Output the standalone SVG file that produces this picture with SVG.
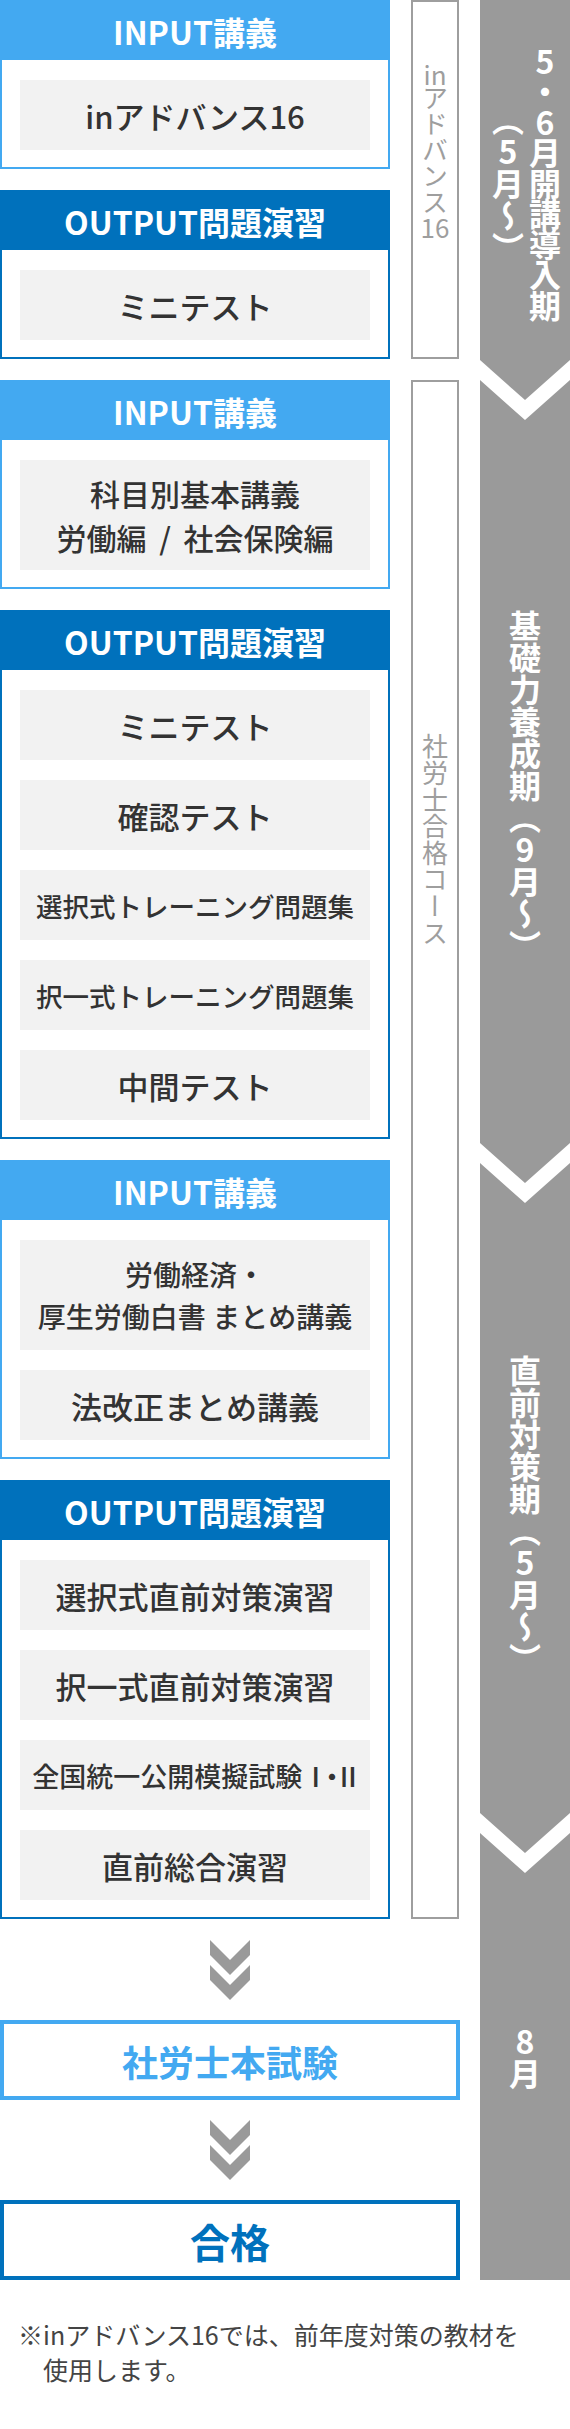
<svg xmlns="http://www.w3.org/2000/svg" width="570" height="2429" viewBox="0 0 570 2429">
<style>
text{font-family:"Noto Sans CJK JP","Noto Sans",sans-serif}
.frameL{fill:#fff;stroke:#43a9f1;stroke-width:2}
.frameD{fill:#fff;stroke:#0071bc;stroke-width:2}
.hdrL{fill:#43a9f1}
.hdrD{fill:#0071bc}
.hdrT{fill:#fff;font-size:32px;font-weight:700;text-anchor:middle;dominant-baseline:central}
.item{fill:#f2f2f2}
.itT{fill:#333;font-size:31px;font-weight:500;text-anchor:middle;dominant-baseline:central}
.lab{fill:#fff;stroke:#9e9e9e;stroke-width:2}
.labT{fill:#9e9e9e;font-size:26px;font-weight:400;text-anchor:middle;dominant-baseline:central}
.vert{writing-mode:vertical-rl;text-orientation:upright}
.band{fill:#9a9a9a}
.bandT{fill:#fff;font-size:32px;font-weight:700;text-anchor:middle}
.arr{fill:#9a9a9a}
</style>
<g id="band">
<polygon class="band" points="480,0 570,0 570,360 525,400 480,360"/>
<polygon class="band" points="480,380 525,420 570,380 570,1143 525,1183 480,1143"/>
<polygon class="band" points="480,1163 525,1203 570,1163 570,1813 525,1853 480,1813"/>
<polygon class="band" points="480,1833 525,1873 570,1833 570,2280 480,2280"/>
<text class="bandT vert" x="545" y="183" style="letter-spacing:-1.5px">5・6月開講導入期</text>
<text class="bandT vert" x="508" y="184">（5月～）</text>
<text class="bandT vert" x="525" y="786">基礎力養成期（9月～）</text>
<text class="bandT vert" x="525" y="1515">直前対策期（5月～）</text>
<text class="bandT vert" x="525" y="2058">8月</text>
</g>
<g id="label-inadvance">
<rect class="lab" x="412" y="1" width="46" height="357"/>
<text class="labT" x="435" y="73">in</text>
<text class="labT vert" x="435" y="150" style="dominant-baseline:auto">アドバンス</text>
<text class="labT" x="435" y="226">16</text>
</g>
<g id="label-course">
<rect class="lab" x="412" y="381" width="46" height="1537"/>
<text class="labT vert" x="435" y="840" style="dominant-baseline:auto;letter-spacing:0.6px">社労士合格コース</text>
</g>
<g id="box1">
<rect class="frameL" x="1" y="1" width="388" height="167"/>
<rect class="hdrL" x="0" y="0" width="390" height="60"/>
<text class="hdrT" x="195" y="31">INPUT講義</text>
<rect class="item" x="20" y="80" width="350" height="70"/>
<text class="itT" x="195" y="115">inアドバンス16</text>
</g>
<g id="box2">
<rect class="frameD" x="1" y="191" width="388" height="167"/>
<rect class="hdrD" x="0" y="190" width="390" height="60"/>
<text class="hdrT" x="195" y="221">OUTPUT問題演習</text>
<rect class="item" x="20" y="270" width="350" height="70"/>
<text class="itT" x="195" y="305">ミニテスト</text>
</g>
<g id="box3">
<rect class="frameL" x="1" y="381" width="388" height="207"/>
<rect class="hdrL" x="0" y="380" width="390" height="60"/>
<text class="hdrT" x="195" y="411">INPUT講義</text>
<rect class="item" x="20" y="460" width="350" height="110"/>
<text class="itT" x="195" y="493" style="font-size:30px">科目別基本講義</text>
<text class="itT" x="195" y="537" style="font-size:30px;word-spacing:6px">労働編 / 社会保険編</text>
</g>
<g id="box4">
<rect class="frameD" x="1" y="611" width="388" height="527"/>
<rect class="hdrD" x="0" y="610" width="390" height="60"/>
<text class="hdrT" x="195" y="641">OUTPUT問題演習</text>
<rect class="item" x="20" y="690" width="350" height="70"/>
<text class="itT" x="195" y="725">ミニテスト</text>
<rect class="item" x="20" y="780" width="350" height="70"/>
<text class="itT" x="195" y="815">確認テスト</text>
<rect class="item" x="20" y="870" width="350" height="70"/>
<text class="itT" x="195" y="905" style="font-size:26.5px">選択式トレーニング問題集</text>
<rect class="item" x="20" y="960" width="350" height="70"/>
<text class="itT" x="195" y="995" style="font-size:26.5px">択一式トレーニング問題集</text>
<rect class="item" x="20" y="1050" width="350" height="70"/>
<text class="itT" x="195" y="1085">中間テスト</text>
</g>
<g id="box5">
<rect class="frameL" x="1" y="1161" width="388" height="297"/>
<rect class="hdrL" x="0" y="1160" width="390" height="60"/>
<text class="hdrT" x="195" y="1191">INPUT講義</text>
<rect class="item" x="20" y="1240" width="350" height="110"/>
<text class="itT" x="195" y="1274" style="font-size:28px">労働経済・</text>
<text class="itT" x="195" y="1316" style="font-size:28px">厚生労働白書 まとめ講義</text>
<rect class="item" x="20" y="1370" width="350" height="70"/>
<text class="itT" x="195" y="1405">法改正まとめ講義</text>
</g>
<g id="box6">
<rect class="frameD" x="1" y="1481" width="388" height="437"/>
<rect class="hdrD" x="0" y="1480" width="390" height="60"/>
<text class="hdrT" x="195" y="1511">OUTPUT問題演習</text>
<rect class="item" x="20" y="1560" width="350" height="70"/>
<text class="itT" x="195" y="1595">選択式直前対策演習</text>
<rect class="item" x="20" y="1650" width="350" height="70"/>
<text class="itT" x="195" y="1685">択一式直前対策演習</text>
<rect class="item" x="20" y="1740" width="350" height="70"/>
<text class="itT" x="195" y="1775" style="font-size:27px">全国統一公開模擬試験<tspan style="font-feature-settings:'palt' 1;letter-spacing:-4px">Ⅰ・Ⅱ</tspan></text>
<rect class="item" x="20" y="1830" width="350" height="70"/>
<text class="itT" x="195" y="1865">直前総合演習</text>
</g>
<g id="connectors">
<polygon class="arr" points="210,1940 230,1960 250,1940 250,1955 230,1975 210,1955"/>
<polygon class="arr" points="210,1965 230,1985 250,1965 250,1980 230,2000 210,1980"/>
<polygon class="arr" points="210,2120 230,2140 250,2120 250,2135 230,2155 210,2135"/>
<polygon class="arr" points="210,2145 230,2165 250,2145 250,2160 230,2180 210,2160"/>
</g>
<g id="exam">
<rect x="2" y="2022" width="456" height="76" fill="#fff" stroke="#43a9f1" stroke-width="4"/>
<text x="230" y="2061" fill="#43a9f1" font-size="36" font-weight="700" text-anchor="middle" dominant-baseline="central">社労士本試験</text>
</g>
<g id="pass">
<rect x="2" y="2202" width="456" height="76" fill="#fff" stroke="#0071bc" stroke-width="4"/>
<text x="230" y="2241" fill="#0071bc" font-size="40" font-weight="700" text-anchor="middle" dominant-baseline="central">合格</text>
</g>
<g id="note">
<text x="18" y="2345" fill="#444" font-size="25">※inアドバンス16では、前年度対策の教材を</text>
<text x="43" y="2380" fill="#444" font-size="25">使用します。</text>
</g>
</svg>
